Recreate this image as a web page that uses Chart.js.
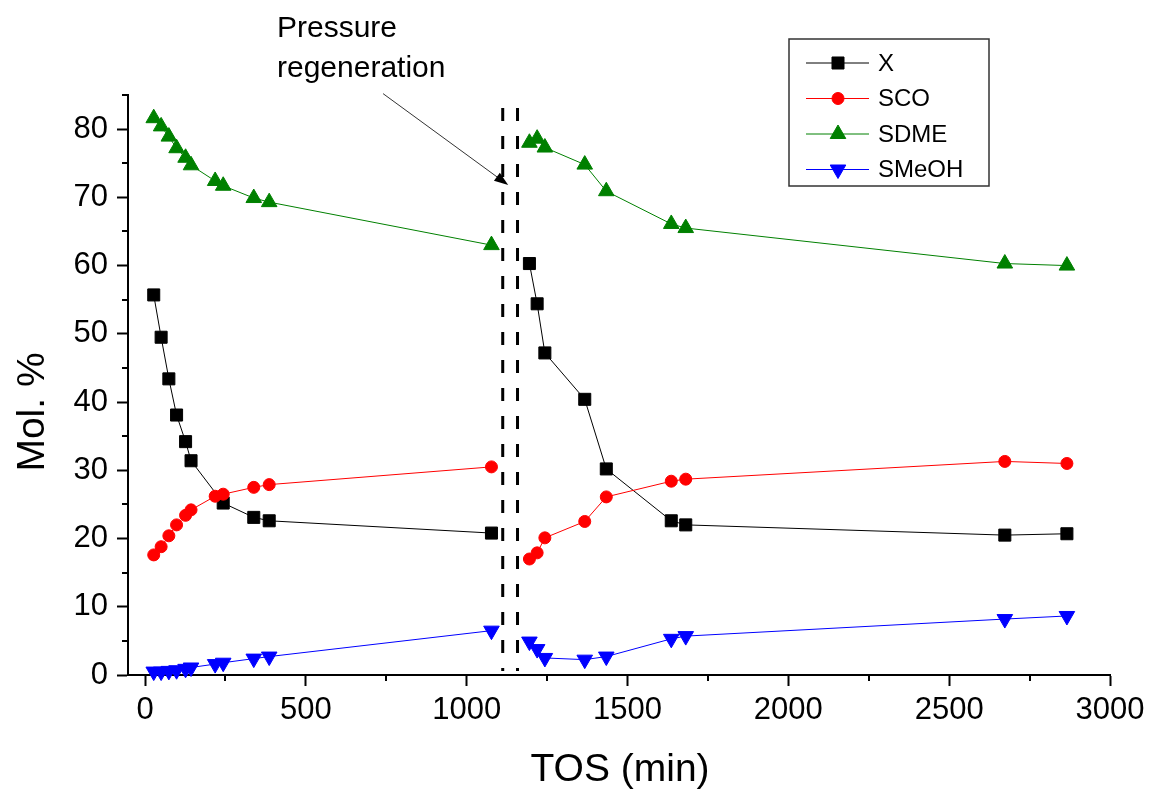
<!DOCTYPE html>
<html>
<head>
<meta charset="utf-8">
<title>TOS</title>
<script src="https://cdn.jsdelivr.net/npm/chart.js@4.4.1/dist/chart.umd.min.js"></script>
<style>
  html, body { margin: 0; padding: 0; background: #fff; }
  #wrap { width: 1151px; height: 791px; }
</style>
</head>
<body>
<div id="wrap"><canvas id="tos-chart" width="1151" height="791"></canvas></div>
<script>
"use strict";

// Time on stream (min) for every sample
const tos = [27, 50, 74, 98, 126, 143, 218, 243, 338, 386, 1077,
             1195, 1219, 1243, 1367, 1434, 1636, 1681, 2673, 2866];

// Conversion and selectivities (mol. %), null where no sample was taken
const conversion = [55.7, 49.5, 43.4, 38.1, 34.2, 31.4, null, 25.2, 23.1, 22.6, 20.8,
                    60.3, 54.4, 47.2, 40.4, 30.2, 22.6, 22.0, 20.5, 20.7];
const selCO = [17.6, 18.8, 20.4, 22.0, 23.4, 24.2, 26.2, 26.5, 27.5, 27.9, 30.5,
               17.0, 17.9, 20.1, 22.5, 26.1, 28.4, 28.7, 31.3, 31.0];
const selDME = [81.6, 80.4, 78.9, 77.2, 75.8, 74.7, 72.4, 71.7, 69.9, 69.3, 63.0,
                78.0, 78.6, 77.3, 74.8, 70.9, 66.1, 65.5, 60.3, 60.0];
const selMeOH = [0.5, 0.5, 0.6, 0.7, 0.9, 1.1, 1.6, 1.8, 2.4, 2.7, 6.5,
                 4.9, 3.8, 2.5, 2.25, 2.7, 5.3, 5.7, 8.2, 8.65];

// Pressure regeneration between the two runs
const regenerationTime = 1135;
const regenerationMarks = [1112, 1158];

// Axis ticks
const tosTicks = [0, 500, 1000, 1500, 2000, 2500, 3000];
const tosMinorTicks = [250, 750, 1250, 1750, 2250, 2750];
const molTicks = [0, 10, 20, 30, 40, 50, 60, 70, 80];
const molMinorTicks = [5, 15, 25, 35, 45, 55, 65, 75, 85];

const fontFamily = "'Liberation Sans', Arial, sans-serif";

// Turns a value list into {x, y} points, with a break at the regeneration
function toPoints(values) {
    const points = [];
    tos.forEach((t, i) => {
        if (values[i] !== null) points.push({ x: t, y: values[i] });
        if (t < regenerationTime && tos[i + 1] > regenerationTime) {
            points.push({ x: regenerationTime, y: null });
        }
    });
    return points;
}

// Minor ticks, regeneration lines, arrow, titles and legend
const extras = {
    id: 'extras',
    afterDraw(chart) {
        const { ctx, scales: { x, y } } = chart;
        ctx.save();

        // minor ticks
        ctx.strokeStyle = '#000';
        ctx.lineWidth = 2;
        tosMinorTicks.forEach(v => {
            const px = Math.round(x.getPixelForValue(v));
            ctx.beginPath();
            ctx.moveTo(px, y.bottom);
            ctx.lineTo(px, y.bottom + 6);
            ctx.stroke();
        });
        molMinorTicks.forEach(v => {
            const py = Math.round(y.getPixelForValue(v));
            ctx.beginPath();
            ctx.moveTo(x.left, py);
            ctx.lineTo(x.left - 6, py);
            ctx.stroke();
        });

        // dashed regeneration lines
        ctx.lineWidth = 3;
        ctx.setLineDash([13, 15]);
        regenerationMarks.forEach(v => {
            const px = x.getPixelForValue(v);
            ctx.beginPath();
            ctx.moveTo(px, y.getPixelForValue(83.1));
            ctx.lineTo(px, y.getPixelForValue(0.6));
            ctx.stroke();
        });
        ctx.setLineDash([]);

        // arrow pointing at the regeneration
        const x0 = x.getPixelForValue(740), y0 = y.getPixelForValue(85.2);
        const x1 = x.getPixelForValue(1129), y1 = y.getPixelForValue(71.8);
        const ang = Math.atan2(y1 - y0, x1 - x0);
        ctx.strokeStyle = '#333';
        ctx.lineWidth = 1;
        ctx.beginPath();
        ctx.moveTo(x0, y0);
        ctx.lineTo(x1 - 10 * Math.cos(ang), y1 - 10 * Math.sin(ang));
        ctx.stroke();
        ctx.fillStyle = '#000';
        ctx.beginPath();
        ctx.moveTo(x1, y1);
        ctx.lineTo(x1 - 14 * Math.cos(ang) + 5 * Math.sin(ang), y1 - 14 * Math.sin(ang) - 5 * Math.cos(ang));
        ctx.lineTo(x1 - 14 * Math.cos(ang) - 5 * Math.sin(ang), y1 - 14 * Math.sin(ang) + 5 * Math.cos(ang));
        ctx.closePath();
        ctx.fill();

        // annotation text
        ctx.fillStyle = '#000';
        ctx.font = '30px ' + fontFamily;
        ctx.textAlign = 'left';
        ctx.textBaseline = 'alphabetic';
        ctx.fillText('Pressure', 277, 37);
        ctx.fillText('regeneration', 277, 77);

        // axis titles
        ctx.font = '39px ' + fontFamily;
        ctx.textAlign = 'center';
        ctx.textBaseline = 'middle';
        ctx.fillText('TOS (min)', 620, 770);
        ctx.save();
        ctx.translate(33, 412);
        ctx.rotate(-Math.PI / 2);
        ctx.fillText('Mol. %', 0, 0);
        ctx.restore();

        // legend
        ctx.strokeStyle = '#333';
        ctx.lineWidth = 1.5;
        ctx.strokeRect(789, 39, 200, 147);
        ctx.font = '24px ' + fontFamily;
        ctx.textAlign = 'left';
        ctx.textBaseline = 'middle';
        chart.data.datasets.forEach((ds, i) => {
            const ly = 63 + i * 35.5;
            ctx.strokeStyle = ds.borderColor;
            ctx.lineWidth = 1;
            ctx.beginPath();
            ctx.moveTo(806, ly);
            ctx.lineTo(869, ly);
            ctx.stroke();
            ctx.fillStyle = ds.pointBackgroundColor;
            ctx.strokeStyle = ds.pointBackgroundColor;
            Chart.helpers.drawPoint(ctx, {
                pointStyle: ds.pointStyle,
                radius: ds.pointRadius,
                rotation: ds.pointRotation || 0,
                borderWidth: 1
            }, 838, ly);
            ctx.fillStyle = '#000';
            ctx.fillText(ds.label, 878, ly + 1);
        });

        ctx.restore();
    }
};

new Chart(document.getElementById('tos-chart'), {
    type: 'line',
    data: {
        datasets: [{
            label: 'X',
            data: toPoints(conversion),
            borderColor: '#000',
            pointBackgroundColor: '#000',
            pointBorderColor: '#000',
            pointStyle: 'rect',
            pointRadius: 8.5,
            order: 4
        }, {
            label: 'SCO',
            data: toPoints(selCO),
            borderColor: '#ff0000',
            pointBackgroundColor: '#ff0000',
            pointBorderColor: '#ff0000',
            pointStyle: 'circle',
            pointRadius: 6,
            order: 3
        }, {
            label: 'SDME',
            data: toPoints(selDME),
            borderColor: '#008000',
            pointBackgroundColor: '#008000',
            pointBorderColor: '#008000',
            pointStyle: 'triangle',
            pointRadius: 9,
            order: 2
        }, {
            label: 'SMeOH',
            data: toPoints(selMeOH),
            borderColor: '#0000ff',
            pointBackgroundColor: '#0000ff',
            pointBorderColor: '#0000ff',
            pointStyle: 'triangle',
            pointRotation: 180,
            pointRadius: 9,
            order: 1
        }]
    },
    options: {
        responsive: false,
        animation: false,
        spanGaps: false,
        layout: { padding: { top: 95, right: 41, left: 0, bottom: 0 } },
        elements: {
            line: { borderWidth: 1, tension: 0 },
            point: { borderWidth: 1 }
        },
        datasets: { line: { clip: false } },
        plugins: { legend: { display: false }, tooltip: { enabled: false } },
        scales: {
            x: {
                type: 'linear',
                min: -53,
                max: 3000,
                afterBuildTicks: s => { s.ticks = tosTicks.map(v => ({ value: v })); },
                afterFit: s => { s.height = 116; },
                ticks: {
                    color: '#000',
                    font: { family: fontFamily, size: 31 },
                    padding: 6,
                    maxRotation: 0,
                    autoSkip: false,
                    callback: v => String(v)
                },
                grid: { drawOnChartArea: false, tickLength: 11, tickWidth: 2, tickColor: '#000' },
                border: { color: '#000', width: 2 }
            },
            y: {
                type: 'linear',
                min: 0,
                max: 85,
                afterBuildTicks: s => { s.ticks = molTicks.map(v => ({ value: v })); },
                afterFit: s => { s.width = 128; },
                ticks: {
                    color: '#000',
                    font: { family: fontFamily, size: 31 },
                    padding: 9,
                    callback: v => String(v)
                },
                grid: { drawOnChartArea: false, tickLength: 11, tickWidth: 2, tickColor: '#000' },
                border: { color: '#000', width: 2 }
            }
        }
    },
    plugins: [extras]
});
</script>
</body>
</html>
